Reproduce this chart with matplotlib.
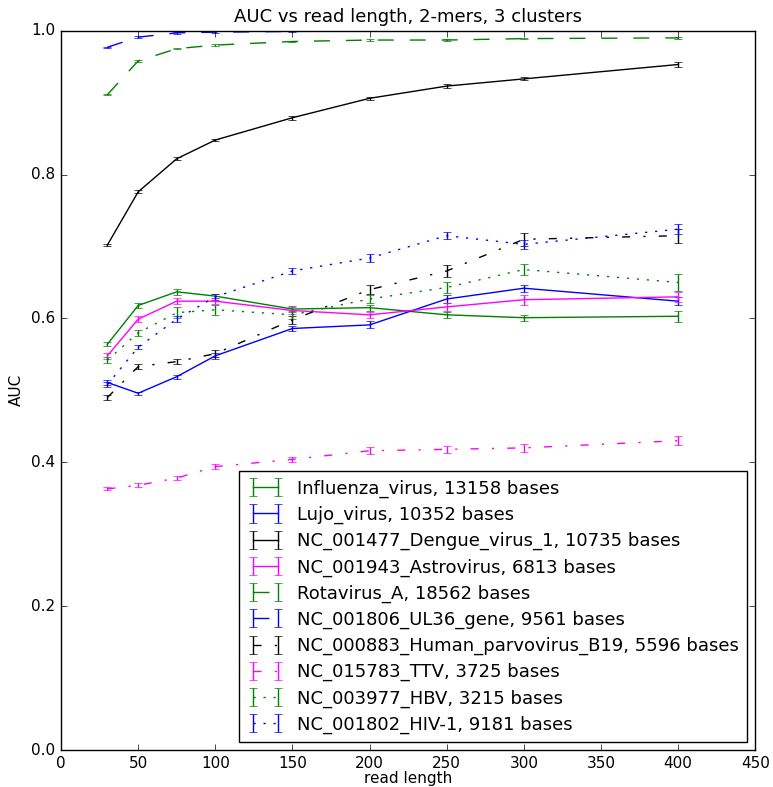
import matplotlib
matplotlib.use("Agg")
import matplotlib.pyplot as plt

plt.style.use('classic')

read_length = [30, 50, 75, 100, 150, 200, 250, 300, 400]

names = [
    "Influenza_virus, 13158 bases",
    "Lujo_virus, 10352 bases",
    "NC_001477_Dengue_virus_1, 10735 bases",
    "NC_001943_Astrovirus, 6813 bases",
    "Rotavirus_A, 18562 bases",
    "NC_001806_UL36_gene, 9561 bases",
    "NC_000883_Human_parvovirus_B19, 5596 bases",
    "NC_015783_TTV, 3725 bases",
    "NC_003977_HBV, 3215 bases",
    "NC_001802_HIV-1, 9181 bases",
]

influenza = [0.564, 0.618, 0.637, 0.631, 0.613, 0.615, 0.605, 0.601, 0.603]
influenza_err = [0.003, 0.003, 0.004, 0.003, 0.004, 0.004, 0.004, 0.004, 0.008]
lujo = [0.511, 0.496, 0.519, 0.548, 0.586, 0.591, 0.627, 0.642, 0.624]
lujo_err = [0.004, 0.002, 0.003, 0.004, 0.004, 0.005, 0.005, 0.005, 0.006]
dengue = [0.702, 0.776, 0.822, 0.848, 0.879, 0.906, 0.923, 0.933, 0.953]
dengue_err = [0.002, 0.002, 0.002, 0.002, 0.003, 0.002, 0.003, 0.002, 0.003]
astro = [0.548, 0.599, 0.624, 0.624, 0.611, 0.605, 0.616, 0.626, 0.630]
astro_err = [0.004, 0.004, 0.004, 0.004, 0.005, 0.004, 0.005, 0.007, 0.007]
rota = [0.911, 0.958, 0.975, 0.980, 0.985, 0.987, 0.987, 0.989, 0.990]
rota_err = [0.001, 0.001, 0.001, 0.001, 0.001, 0.001, 0.001, 0.001, 0.001]
ul36 = [0.977, 0.991, 0.997, 0.998, 0.999, 1.0, 1.0, 1.0, 1.0]
ul36_err = [0.001, 0.001, 0.001, 0.001, 0.001, 0.001, 0.001, 0.001, 0.001]
parvo = [0.490, 0.533, 0.540, 0.551, 0.598, 0.640, 0.666, 0.710, 0.715]
parvo_err = [0.003, 0.004, 0.003, 0.005, 0.006, 0.006, 0.008, 0.009, 0.010]
ttv = [0.363, 0.368, 0.378, 0.394, 0.404, 0.416, 0.418, 0.420, 0.430]
ttv_err = [0.002, 0.003, 0.003, 0.004, 0.004, 0.005, 0.005, 0.006, 0.006]
hbv = [0.542, 0.580, 0.608, 0.612, 0.605, 0.627, 0.643, 0.668, 0.650]
hbv_err = [0.004, 0.004, 0.008, 0.007, 0.006, 0.006, 0.008, 0.008, 0.012]
hiv = [0.508, 0.560, 0.599, 0.630, 0.666, 0.684, 0.715, 0.703, 0.724]
hiv_err = [0.004, 0.003, 0.004, 0.004, 0.004, 0.005, 0.005, 0.006, 0.007]

series = [influenza, lujo, dengue, astro, rota, ul36, parvo, ttv, hbv, hiv]
errors = [influenza_err, lujo_err, dengue_err, astro_err, rota_err, ul36_err,
          parvo_err, ttv_err, hbv_err, hiv_err]
colors = ['#008000', '#0000ff', '#000000', '#ff00ff', '#008000', '#0000ff',
          '#000000', '#ff00ff', '#008000', '#0000ff']
styles = ['-', '-', '-', '-', '--', '--', '-.', '-.', ':', ':']

dash_map = {
    '-': None,
    '--': (0, (11.5, 11.5)),
    '-.': (0, (5.8, 9.5, 1.6, 9.5)),
    ':': (0, (1.6, 5.6)),
}

fig = plt.figure(figsize=(7.73, 7.87), dpi=100, facecolor='white')
ax = fig.add_axes([0.079, 0.047, 0.898, 0.914])
ax.set_facecolor('white')

for vals, errs, c, ls, nm in zip(series, errors, colors, styles, names):
    line, caps, bars = ax.errorbar(read_length, vals, yerr=errs, color=c,
                                   linestyle='-', ecolor=c, capsize=3, label=nm)
    if dash_map[ls] is not None:
        line.set_linestyle(dash_map[ls])

ax.set_xlim(0, 450)
ax.set_ylim(0.0, 1.0)
ax.set_xticks(range(0, 451, 50))
ax.set_yticks([0.0, 0.2, 0.4, 0.6, 0.8, 1.0])
ax.tick_params(labelsize=11)
ax.set_xlabel("read length", fontsize=11, labelpad=0)
ax.set_ylabel("AUC", fontsize=11)
ax.set_title("AUC vs read length, 2-mers, 3 clusters", fontsize=13, pad=6)
ax.legend(loc='lower right', fontsize=13, numpoints=2, handlelength=2.0,
          labelspacing=0.44, borderaxespad=0.45, handletextpad=0.75,
          borderpad=0.45)

fig.savefig("out.png", dpi=100, facecolor='white')
